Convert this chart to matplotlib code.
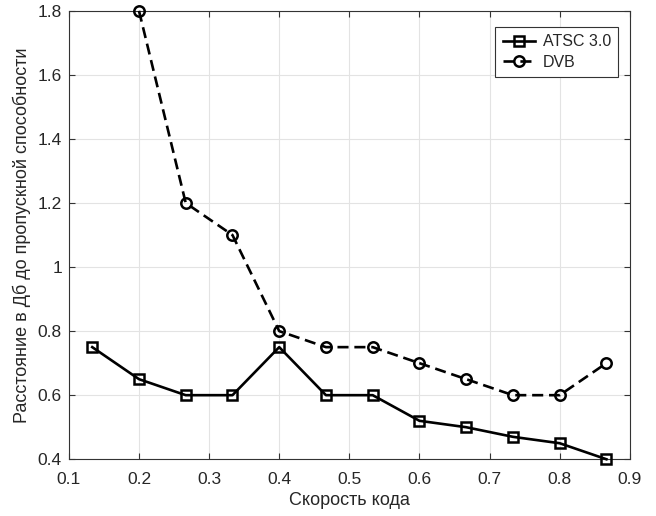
import matplotlib
matplotlib.use("Agg")
import matplotlib.pyplot as plt
import numpy as np

plt.rcParams['font.family'] = ['Liberation Sans', 'DejaVu Sans']

atsc_x = [2/15, 3/15, 4/15, 5/15, 6/15, 7/15, 8/15, 9/15, 10/15, 11/15, 12/15, 13/15]
atsc_y = [0.75, 0.65, 0.60, 0.60, 0.75, 0.60, 0.60, 0.52, 0.50, 0.47, 0.45, 0.40]

dvb_x = [3/15, 4/15, 5/15, 6/15, 7/15, 8/15, 9/15, 10/15, 11/15, 12/15, 13/15]
dvb_y = [1.80, 1.20, 1.10, 0.80, 0.75, 0.75, 0.70, 0.65, 0.60, 0.60, 0.70]

fig = plt.figure(figsize=(6.56, 5.16), dpi=100)
ax = fig.add_axes([0.105, 0.110, 0.855, 0.869])

ax.plot(atsc_x, atsc_y, '-s', color='black', linewidth=1.9, markersize=6.5,
        markerfacecolor='none', markeredgewidth=1.8, label='ATSC 3.0', clip_on=False, zorder=3)
ax.plot(dvb_x, dvb_y, '--o', color='black', linewidth=1.9, markersize=7.5,
        markerfacecolor='none', markeredgewidth=1.8, label='DVB', clip_on=False, zorder=3,
        dashes=(4.2, 2.2))

ax.set_xlim(0.1, 0.9)
ax.set_ylim(0.4, 1.8)
ax.set_xticks(np.arange(0.1, 0.91, 0.1))
ax.set_xticklabels(['0.1', '0.2', '0.3', '0.4', '0.5', '0.6', '0.7', '0.8', '0.9'])
ax.set_yticks([0.4, 0.6, 0.8, 1.0, 1.2, 1.4, 1.6, 1.8])
ax.set_yticklabels(['0.4', '0.6', '0.8', '1', '1.2', '1.4', '1.6', '1.8'])
ax.grid(True, color='#e3e3e3', linewidth=0.8)
ax.set_axisbelow(True)
ax.tick_params(direction='in', labelsize=12.5, length=4, color='#333333', top=True, right=True,
               labelcolor='#262626')
ax.tick_params(axis='x', pad=9)
ax.tick_params(axis='y', pad=5)
for s in ax.spines.values():
    s.set_color('#333333')
    s.set_linewidth(0.8)

ax.set_xlabel('Скорость кода', fontsize=13, color='#262626', labelpad=4)
ax.set_ylabel('Расстояние в Дб до пропускной способности', fontsize=13, color='#262626', labelpad=5)

leg = ax.legend(loc='upper right', bbox_to_anchor=(0.979, 0.964), fontsize=11.5, fancybox=False,
                edgecolor='#333333', framealpha=1, handlelength=2.0, borderpad=0.45,
                labelspacing=0.35, handletextpad=0.5, borderaxespad=0)
leg.get_frame().set_linewidth(0.8)
for t in leg.get_texts():
    t.set_color('#262626')

fig.savefig('out.png', dpi=100)
